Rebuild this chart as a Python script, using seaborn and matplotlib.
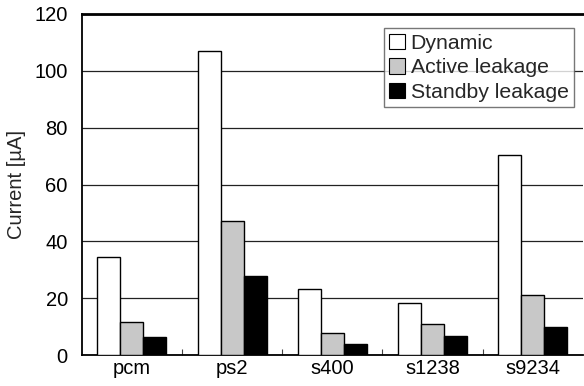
import matplotlib
matplotlib.use("Agg")
import matplotlib.pyplot as plt
import seaborn as sns
import pandas as pd
from matplotlib.ticker import FixedLocator

categories = ["pcm", "ps2", "s400", "s1238", "s9234"]
series_names = ["Dynamic", "Active leakage", "Standby leakage"]
dynamic = [34.5, 106.8, 23.2, 18.2, 70.3]
active_leakage = [11.6, 47.2, 7.7, 10.9, 21.0]
standby_leakage = [6.3, 27.9, 3.9, 6.8, 10.0]
yticks = [0, 20, 40, 60, 80, 100, 120]

rows = []
for name, vals in zip(series_names, [dynamic, active_leakage, standby_leakage]):
    for c, v in zip(categories, vals):
        rows.append({"cat": c, "series": name, "value": v})
df = pd.DataFrame(rows)

sns.set_theme(style="white")
plt.rcParams["font.family"] = ["Liberation Sans", "DejaVu Sans"]

fig = plt.figure(figsize=(5.84, 3.86), dpi=100)
ax = fig.add_axes([0.140, 0.080, 0.858, 0.884])

palette = {"Dynamic": "#ffffff", "Active leakage": "#c8c8c8", "Standby leakage": "#000000"}
sns.barplot(data=df, x="cat", y="value", hue="series", order=categories,
            hue_order=series_names, palette=palette, width=0.69, gap=0,
            edgecolor="black", linewidth=1.0, saturation=1, ax=ax, zorder=3)

ax.set_ylim(0, 120)
ax.set_xlim(-0.5, 4.5)
ax.set_yticks(yticks)
ax.yaxis.grid(True, color="#222222", linewidth=0.9, zorder=0)
ax.set_axisbelow(True)
ax.set_xlabel("")
ax.set_ylabel("Current [µA]", fontsize=14.5, labelpad=6)
ax.tick_params(axis="y", length=0, pad=10, labelsize=14.5, colors="black")
ax.tick_params(axis="x", length=0, pad=3, labelsize=14.5, colors="black")
ax.xaxis.set_minor_locator(FixedLocator([0.5, 1.5, 2.5, 3.5]))
ax.tick_params(axis="x", which="minor", direction="in", length=4, width=0.8, color="#444444", bottom=True)

for s in ["left", "bottom"]:
    ax.spines[s].set_color("black")
    ax.spines[s].set_linewidth(1.3)
ax.spines["top"].set_color("black")
ax.spines["top"].set_linewidth(2.0)
ax.spines["right"].set_visible(False)

leg = ax.legend(loc="upper right", bbox_to_anchor=(0.982, 0.958), fontsize=15.3,
                frameon=True, fancybox=False, edgecolor="#555555",
                handlelength=0.75, handleheight=0.75, handletextpad=0.25,
                labelspacing=0.25, borderpad=0.25, borderaxespad=0)
leg.get_frame().set_linewidth(1.0)
for h in leg.legend_handles:
    h.set_edgecolor("black")
    h.set_linewidth(0.8)

fig.savefig("out.png", dpi=100)
